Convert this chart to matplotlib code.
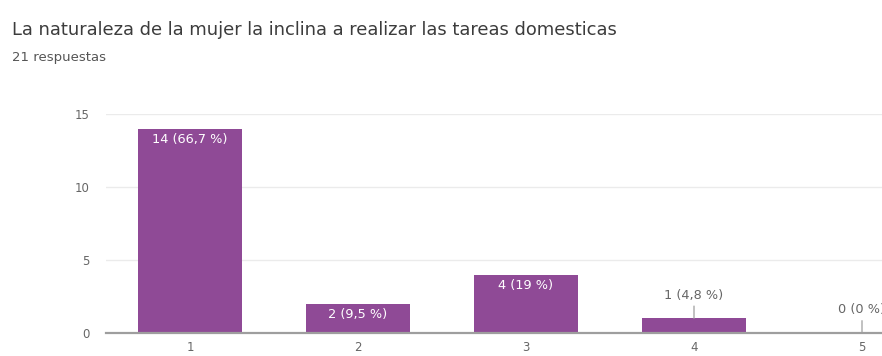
import matplotlib
matplotlib.use('Agg')
import matplotlib.pyplot as plt

# respuestas por opción de la escala
opciones = [1, 2, 3, 4, 5]
conteos = [14, 2, 4, 1, 0]
etiquetas = ['14 (66,7 %)', '2 (9,5 %)', '4 (19 %)', '1 (4,8 %)', '0 (0 %)']
ticks_y = [0, 5, 10, 15]

titulo = 'La naturaleza de la mujer la inclina a realizar las tareas domesticas'
subtitulo = '21 respuestas'

# fuente ancha: el texto de la captura sale estirado en horizontal
plt.rcParams['font.family'] = ['DejaVu Sans']

W, H = 882, 356
fig = plt.figure(figsize=(W / 100, H / 100), dpi=100)

# el eje sigue más allá del borde derecho, como en la vista recortada
ax = fig.add_axes([106 / W, (H - 333) / H, 840 / W, (333 - 114) / H])

morado = '#8f4a96'
barras = ax.bar(opciones, conteos, width=0.62, color=morado, zorder=3)

ax.set_xlim(0.5, 5.5)
ax.set_ylim(0, 15)
ax.set_yticks(ticks_y)
ax.set_xticks(opciones)
ax.set_xticklabels([str(o) for o in opciones])
ax.tick_params(axis='both', length=0, labelsize=8.5, colors='#666666')
ax.tick_params(axis='x', pad=6)
ax.tick_params(axis='y', pad=12)

for s in ['top', 'right', 'left']:
    ax.spines[s].set_visible(False)
ax.spines['bottom'].set_color('#9e9e9e')
ax.spines['bottom'].set_linewidth(1.6)
ax.spines['bottom'].set_zorder(4)
ax.yaxis.grid(True, color='#ebebeb', linewidth=1, zorder=0)
ax.set_axisbelow(True)

# etiquetas: dentro de la barra si cabe, si no encima con una guía gris
for x, n, txt in zip(opciones, conteos, etiquetas):
    if n >= 2:
        ax.annotate(txt, (x, n), xytext=(0, -11), textcoords='offset pixels',
                    ha='center', va='center', color='white', fontsize=9.3, zorder=5)
    else:
        ax.annotate(txt, (x, n), xytext=(0, 23), textcoords='offset pixels',
                    ha='center', va='center', color='#666666', fontsize=9.3, zorder=5,
                    arrowprops=dict(arrowstyle='-', color='#9e9e9e', lw=0.9,
                                    shrinkA=1, shrinkB=0),
                    annotation_clip=False)

fig.text(12 / W, 1 - 30 / H, titulo, fontsize=12.9, color='#3c3c3c', va='center', ha='left')
fig.text(12 / W, 1 - 58 / H, subtitulo, fontsize=9.5, color='#555555', va='center', ha='left')

fig.savefig('out.png', dpi=100)
